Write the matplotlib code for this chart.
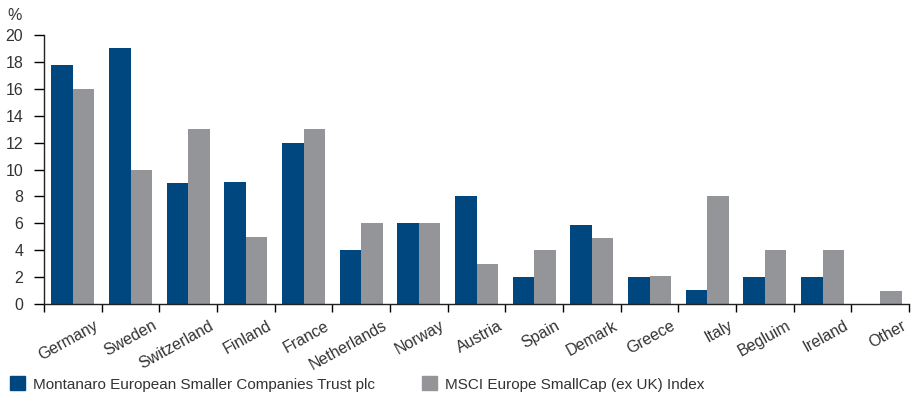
import numpy as np
import matplotlib
matplotlib.use('Agg')
from matplotlib import pyplot as plt
from matplotlib.patches import Patch
from matplotlib.transforms import ScaledTranslation


# Data
countries = ['Germany', 'Sweden', 'Switzerland', 'Finland', 'France', 'Netherlands',
             'Norway', 'Austria', 'Spain', 'Demark', 'Greece', 'Italy', 'Begluim',
             'Ireland', 'Other']
trust = [17.8, 19.0, 9.0, 9.1, 12.0, 4.0, 6.0, 8.0, 2.0, 5.9, 2.0, 1.05, 2.0, 2.0, 0.0]
index = [16.0, 10.0, 13.0, 4.95, 13.0, 6.0, 6.0, 3.0, 4.0, 4.9, 2.1, 8.0, 4.0, 4.0, 1.0]
series_names = ['Montanaro European Smaller Companies Trust plc',
                'MSCI Europe SmallCap (ex UK) Index']

navy = '#00467f'
grey = '#949599'
txt = '#333333'
fs = 11.5

plt.rcParams['font.family'] = ['Liberation Sans', 'DejaVu Sans']

fig = plt.figure(figsize=(9.21, 3.94), dpi=100)
ax = fig.add_axes([44 / 921, 1 - 304 / 394, 865 / 921, 269 / 394])

x = np.arange(len(countries))
w = 0.375
ax.bar(x - w / 2, trust, w, color=navy)
ax.bar(x + w / 2, index, w, color=grey)

ax.set_xlim(-0.5, len(countries) - 0.5)
ax.set_ylim(0, 20)
ax.set_yticks(range(0, 21, 2))

# tick marks at category boundaries, labels near the centres
ax.set_xticks(x)
ax.set_xticklabels(countries, rotation=29, ha='right', rotation_mode='anchor',
                   fontsize=fs, color=txt)
ax.set_xticks(np.arange(-0.5, len(countries)), minor=True)
ax.tick_params(axis='x', which='major', length=0, pad=10)
ax.tick_params(axis='x', which='minor', length=6, width=1, direction='out')
ax.tick_params(axis='y', length=7, width=1, labelsize=fs, labelcolor=txt, pad=8)
offset = ScaledTranslation(21 / 100, 0, fig.dpi_scale_trans)
for lab in ax.get_xticklabels():
    lab.set_transform(lab.get_transform() + offset)

for s in ['top', 'right']:
    ax.spines[s].set_visible(False)
for s in ['left', 'bottom']:
    ax.spines[s].set_linewidth(1)
    ax.spines[s].set_color('#222222')

fig.text(15 / 921, 1 - 15 / 394, '%', fontsize=fs, color=txt, ha='center', va='center')

# legend: one entry per series, placed where the reference has them
for col, name, lx in [(navy, series_names[0], 10), (grey, series_names[1], 422)]:
    fig.legend([Patch(color=col)], [name], loc='center left',
               bbox_to_anchor=(lx / 921, 1 - 384 / 394), frameon=False,
               fontsize=11, borderpad=0, borderaxespad=0,
               handlelength=1.0, handleheight=1.0, handletextpad=0.5,
               labelcolor=txt)

fig.savefig('out.png', dpi=100)
